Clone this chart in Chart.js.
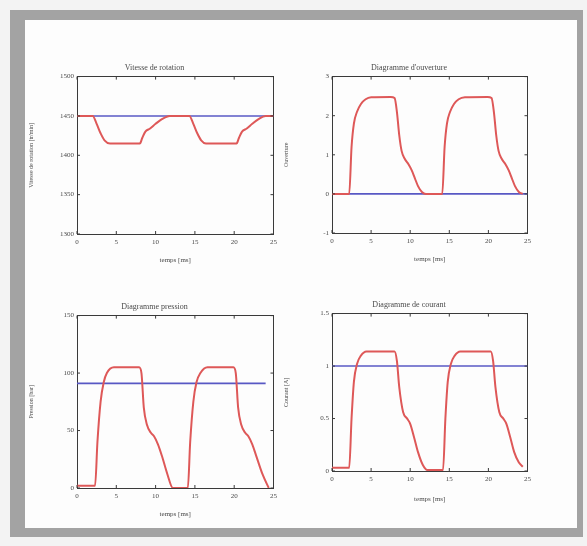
<!DOCTYPE html>
<html>
<head>
<meta charset="utf-8">
<script src="https://cdn.jsdelivr.net/npm/chart.js@4.4.1/dist/chart.umd.min.js"></script>
<style>
  html, body { margin: 0; padding: 0; background: #f3f3f3; }
  #page { position: relative; width: 587px; height: 546px; overflow: hidden; }
  #frame { position: absolute; left: 10px; top: 10px; width: 573px; height: 527px; background: #a3a3a3; }
  #panel { position: absolute; left: 25px; top: 20px; width: 552px; height: 508px; background: #fdfdfd; }
  .box { position: absolute; }
  .box canvas { filter: blur(0.4px); }
</style>
</head>
<body>
<div id="page">
  <div id="frame"></div>
  <div id="panel"></div>
  <div class="box" id="b1"><canvas id="c1"></canvas></div>
  <div class="box" id="b2"><canvas id="c2"></canvas></div>
  <div class="box" id="b3"><canvas id="c3"></canvas></div>
  <div class="box" id="b4"><canvas id="c4"></canvas></div>
</div>
<script>
// temps commun des axes
const timeTicks = [0, 5, 10, 15, 20, 25];

// Vitesse de rotation
const speedT = [0, 2.0, 2.5, 3.0, 3.5, 4.2, 8.0, 8.3, 8.7, 9.3, 10.0, 10.8, 11.8, 14.3, 14.8, 15.3, 15.8, 16.4, 20.3, 20.6, 21.0, 21.6, 22.3, 23.1, 24.0, 25];
const speedV = [1450, 1450, 1440, 1428, 1419, 1415, 1415, 1422, 1430, 1434, 1440, 1446, 1450, 1450, 1440, 1428, 1419, 1415, 1415, 1422, 1430, 1434, 1440, 1446, 1450, 1450];
const speedRefT = [0, 25];
const speedRefV = [1450, 1450];

// Diagramme d'ouverture
const openT = [0, 2.2, 2.5, 2.8, 3.2, 3.7, 4.3, 5.0, 7.5, 8.0, 8.3, 8.6, 8.9, 9.3, 9.8, 10.2, 10.6, 11.0, 11.5, 12.0, 14.1, 14.4, 14.7, 15.1, 15.6, 16.2, 17.0, 19.9, 20.4, 20.7, 21.0, 21.3, 21.7, 22.2, 22.6, 23.0, 23.4, 23.9, 24.4];
const openV = [0, 0, 1.2, 1.8, 2.1, 2.3, 2.42, 2.47, 2.48, 2.45, 2.1, 1.5, 1.1, 0.9, 0.75, 0.6, 0.4, 0.2, 0.05, 0, 0, 1.2, 1.8, 2.1, 2.3, 2.42, 2.47, 2.48, 2.45, 2.1, 1.5, 1.1, 0.9, 0.75, 0.6, 0.4, 0.2, 0.05, 0];
const openRefT = [0, 25];
const openRefV = [0, 0];

// Diagramme pression
const pressT = [0, 2.3, 2.6, 3.0, 3.4, 3.8, 4.7, 7.9, 8.2, 8.5, 8.9, 9.4, 9.8, 10.3, 10.8, 11.5, 12.2, 14.1, 14.4, 14.8, 15.2, 15.7, 16.6, 19.9, 20.2, 20.5, 20.9, 21.4, 21.8, 22.3, 22.8, 23.6, 24.4];
const pressV = [2, 2, 40, 75, 92, 100, 105, 105, 100, 70, 55, 48, 45, 38, 28, 12, 0, 0, 40, 75, 92, 100, 105, 105, 100, 70, 55, 48, 45, 38, 28, 12, 0];
const pressRefT = [0, 24];
const pressRefV = [91, 91];

// Diagramme de courant
const currT = [0, 2.2, 2.5, 2.8, 3.2, 3.7, 4.4, 8.0, 8.3, 8.6, 9.1, 9.6, 10.0, 10.5, 11.0, 11.6, 12.2, 14.2, 14.5, 14.8, 15.2, 15.7, 16.4, 20.3, 20.6, 20.9, 21.4, 21.9, 22.3, 22.8, 23.3, 23.9, 24.4];
const currV = [0.03, 0.03, 0.5, 0.85, 1.02, 1.1, 1.14, 1.14, 1.05, 0.8, 0.56, 0.5, 0.45, 0.32, 0.18, 0.06, 0.01, 0.01, 0.5, 0.85, 1.02, 1.1, 1.14, 1.14, 1.05, 0.8, 0.56, 0.5, 0.45, 0.32, 0.18, 0.08, 0.04];
const currRefT = [0, 25];
const currRefV = [1, 1];

const RED = 'rgb(222, 88, 88)';
const BLUE = 'rgb(88, 88, 196)';
const AXIS = '#3a3a3a';
const TEXT = '#4a4a4a';

function pts(t, v) {
  return t.map((x, i) => ({ x: x, y: v[i] }));
}

// petits traits de graduation vers l'intérieur, comme sous Matlab
const innerTicks = {
  id: 'innerTicks',
  afterDatasetsDraw(chart) {
    const ctx = chart.ctx;
    const a = chart.chartArea;
    const xs = chart.scales.x, ys = chart.scales.y;
    ctx.save();
    ctx.strokeStyle = AXIS;
    ctx.lineWidth = 1;
    ctx.beginPath();
    xs.ticks.forEach((t, i) => {
      const px = xs.getPixelForTick(i);
      ctx.moveTo(px, a.bottom); ctx.lineTo(px, a.bottom - 3);
      ctx.moveTo(px, a.top); ctx.lineTo(px, a.top + 3);
    });
    ys.ticks.forEach((t, i) => {
      const py = ys.getPixelForTick(i);
      ctx.moveTo(a.left, py); ctx.lineTo(a.left + 3, py);
      ctx.moveTo(a.right, py); ctx.lineTo(a.right - 3, py);
    });
    ctx.stroke();
    ctx.restore();
  }
};

function makePlot(id, boxId, box, cfg) {
  const b = document.getElementById(boxId);
  b.style.left = box.left + 'px';
  b.style.top = box.top + 'px';
  b.style.width = box.width + 'px';
  b.style.height = box.height + 'px';

  new Chart(document.getElementById(id), {
    type: 'line',
    data: {
      datasets: [
        {
          data: pts(cfg.t, cfg.v),
          borderColor: RED,
          borderWidth: 2,
          pointRadius: 0,
          cubicInterpolationMode: 'monotone'
        },
        {
          data: pts(cfg.refT, cfg.refV),
          borderColor: BLUE,
          borderWidth: 1.6,
          pointRadius: 0
        }
      ]
    },
    options: {
      responsive: true,
      maintainAspectRatio: false,
      animation: false,
      layout: { padding: 0 },
      plugins: {
        legend: { display: false },
        tooltip: { enabled: false },
        title: {
          display: true,
          text: cfg.title,
          color: TEXT,
          font: { family: 'Liberation Serif', size: 8, weight: 'normal' },
          padding: { top: 2, bottom: 4 }
        }
      },
      scales: {
        x: {
          type: 'linear',
          min: 0,
          max: 25,
          afterBuildTicks: s => { s.ticks = timeTicks.map(v => ({ value: v })); },
          afterFit: s => { s.height = cfg.xh; },
          grid: { display: false, drawTicks: false },
          border: { display: true, color: AXIS, width: 1 },
          ticks: {
            color: TEXT, padding: 4,
            font: { family: 'Liberation Serif', size: 7 },
            callback: v => String(v)
          },
          title: {
            display: true,
            text: 'temps [ms]',
            color: TEXT,
            font: { family: 'Liberation Serif', size: 7 },
            padding: { top: 4, bottom: 0 }
          }
        },
        x2: {
          type: 'linear',
          position: 'top',
          min: 0,
          max: 25,
          afterFit: s => { s.height = 0; },
          grid: { display: false, drawTicks: false },
          border: { display: true, color: AXIS, width: 1 },
          ticks: { display: false }
        },
        y: {
          type: 'linear',
          min: cfg.yTicks[0],
          max: cfg.yTicks[cfg.yTicks.length - 1],
          afterBuildTicks: s => { s.ticks = cfg.yTicks.map(v => ({ value: v })); },
          afterFit: s => { s.width = 49; },
          grid: { display: false, drawTicks: false },
          border: { display: true, color: AXIS, width: 1 },
          ticks: {
            color: TEXT, padding: 3,
            font: { family: 'Liberation Serif', size: 7 },
            callback: v => String(v)
          },
          title: {
            display: true,
            text: cfg.yLabel,
            color: TEXT,
            font: { family: 'Liberation Serif', size: 6 },
            padding: { top: 0, bottom: 2 }
          }
        },
        y2: {
          type: 'linear',
          position: 'right',
          min: cfg.yTicks[0],
          max: cfg.yTicks[cfg.yTicks.length - 1],
          afterFit: s => { s.width = 0; },
          grid: { display: false, drawTicks: false },
          border: { display: true, color: AXIS, width: 1 },
          ticks: { display: false }
        }
      }
    },
    plugins: [innerTicks]
  });
}

makePlot('c1', 'b1', { left: 28, top: 61, width: 253, height: 203 }, {
  title: 'Vitesse de rotation',
  yLabel: 'Vitesse de rotation [tr/min]',
  yTicks: [1300, 1350, 1400, 1450, 1500],
  xh: 30,
  t: speedT, v: speedV, refT: speedRefT, refV: speedRefV
});

makePlot('c2', 'b2', { left: 283, top: 61, width: 252, height: 202 }, {
  title: "Diagramme d'ouverture",
  yLabel: 'Ouverture',
  yTicks: [-1, 0, 1, 2, 3],
  xh: 30,
  t: openT, v: openV, refT: openRefT, refV: openRefV
});

makePlot('c3', 'b3', { left: 28, top: 300, width: 253, height: 218 }, {
  title: 'Diagramme pression',
  yLabel: 'Pression [bar]',
  yTicks: [0, 50, 100, 150],
  xh: 30,
  t: pressT, v: pressV, refT: pressRefT, refV: pressRefV
});

makePlot('c4', 'b4', { left: 283, top: 298, width: 252, height: 205 }, {
  title: 'Diagramme de courant',
  yLabel: 'Courant [A]',
  yTicks: [0, 0.5, 1, 1.5],
  xh: 32,
  t: currT, v: currV, refT: currRefT, refV: currRefV
});
</script>
</body>
</html>
